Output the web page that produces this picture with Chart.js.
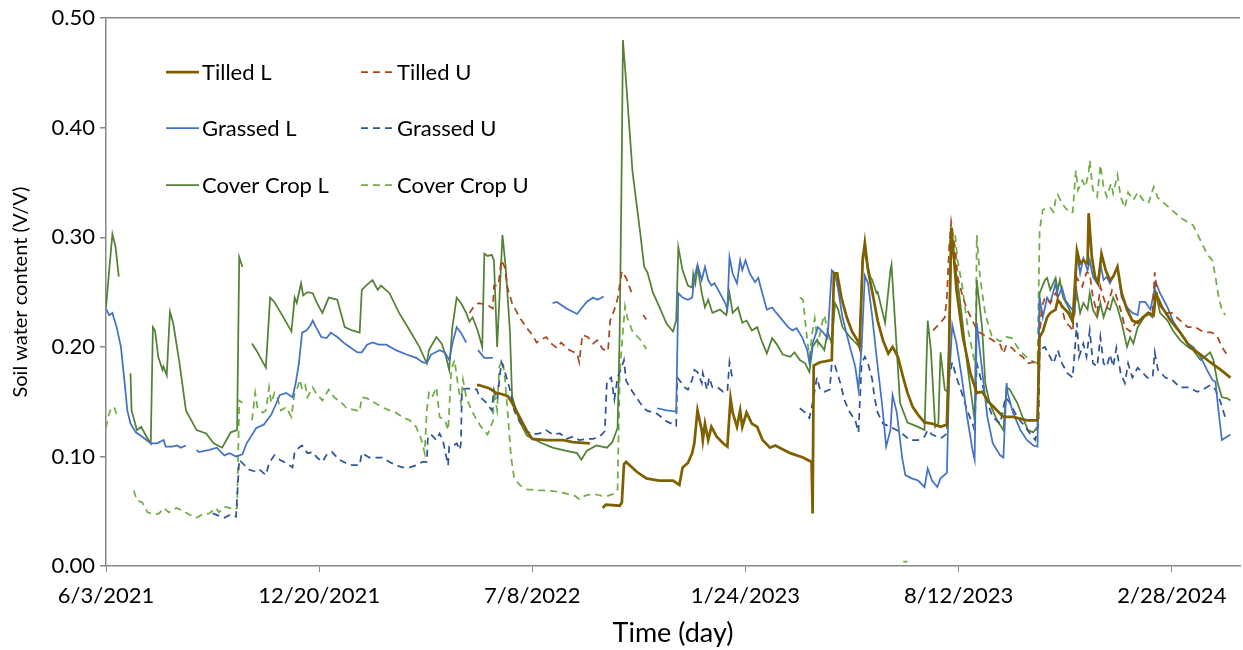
<!DOCTYPE html>
<html>
<head>
<meta charset="utf-8">
<script src="https://cdn.jsdelivr.net/npm/chart.js@4.4.1/dist/chart.umd.min.js"></script>
<style>
  body { margin: 0; background: #fff; }
  canvas { display: block; }
</style>
</head>
<body>
<canvas id="chart" width="1243" height="650"></canvas>
<script>
// day 0 = 6/3/2021, points are [day, soil water content]; null = gap in record
const xTickDays = [0, 200, 400, 600, 800, 1000];
const yTicks = [0, 0.1, 0.2, 0.3, 0.4, 0.5];

const tilledL = [
  [348,0.165],[350,0.165],[360,0.162],[366,0.158],[371,0.157],[377,0.155],[381,0.149],[388,0.136],[395,0.123],[400,0.116],[413,0.115],[428,0.115],[438,0.113],[454,0.112],[460,null],
  [466,0.053],[469,0.056],[482,0.055],[484,0.058],[486,0.093],[488,0.095],[498,0.086],[507,0.080],[519,0.078],[532,0.078],[538,0.074],[541,0.090],[546,0.094],[550,0.103],[552,0.112],[555,0.142],[559,0.124],[560,0.115],[562,0.130],[565,0.115],[568,0.127],[573,0.118],[579,0.112],[583,0.109],[586,0.153],[588,0.140],[592,0.127],[595,0.142],[597,0.127],[601,0.140],[606,0.130],[611,0.127],[616,0.115],[623,0.108],[628,0.110],[642,0.103],[654,0.099],[662,0.095],[663,0.048],[664,0.183],[670,0.186],[681,0.188],[683,0.267],[686,0.267],[690,0.245],[695,0.227],[700,0.214],[705,0.206],[707,0.200],[710,0.279],[712,0.295],[715,0.270],[720,0.245],[724,0.224],[729,0.206],[734,0.194],[738,0.200],[743,0.191],[748,0.172],[752,0.158],[757,0.145],[762,0.138],[768,0.131],[775,0.130],[783,0.127],[789,0.129],[791,0.197],[793,0.309],[795,0.288],[798,0.252],[804,0.209],[811,0.176],[817,0.158],[822,0.159],[829,0.149],[837,0.141],[842,0.136],[851,0.136],[864,0.133],[874,0.133],[876,0.209],[879,0.214],[883,0.227],[886,0.231],[891,0.234],[893,0.243],[898,0.236],[903,0.231],[907,0.223],[911,0.288],[914,0.276],[917,0.279],[921,0.276],[922,0.322],[925,0.282],[928,0.264],[931,0.258],[934,0.285],[938,0.270],[942,0.261],[945,0.264],[949,0.273],[953,0.249],[958,0.234],[963,0.224],[968,0.222],[973,0.227],[978,0.231],[983,0.229],[985,0.249],[991,0.236],[999,0.224],[1008,0.213],[1017,0.200],[1027,0.193],[1036,0.186],[1046,0.179],[1055,0.172]
];

const tilledU = [
  [341,0.231],[346,0.238],[350,0.240],[358,0.238],[363,0.235],[364,0.256],[368,0.256],[371,0.279],[374,0.273],[377,0.253],[381,0.240],[388,0.227],[395,0.217],[400,0.211],[404,0.204],[409,0.207],[413,0.209],[418,0.203],[423,0.199],[427,0.204],[432,0.199],[437,0.196],[442,0.194],[444,0.186],[447,0.211],[452,0.209],[457,0.203],[461,0.206],[466,0.198],[471,0.196],[473,0.224],[477,0.234],[480,0.244],[484,0.269],[488,0.263],[493,0.250],[498,null],
  [504,0.229],[507,0.225],[510,null],
  [776,0.215],[783,0.222],[787,0.227],[789,0.245],[791,0.288],[793,0.314],[795,0.300],[797,0.288],[799,0.264],[804,0.245],[808,0.234],[818,0.214],[827,0.209],[832,0.206],[839,0.202],[842,0.194],[845,0.202],[850,0.199],[855,0.194],[860,0.191],[865,0.185],[870,0.186],[874,0.183],[878,0.236],[881,0.245],[886,0.240],[891,0.249],[895,0.243],[900,0.223],[905,0.218],[907,0.214],[911,0.263],[916,0.255],[920,0.268],[923,0.267],[926,0.245],[930,0.231],[933,0.255],[936,0.245],[939,0.236],[944,0.252],[947,0.249],[952,0.234],[956,0.218],[961,0.214],[966,0.222],[970,0.226],[977,0.229],[982,0.231],[984,0.268],[987,0.240],[994,0.231],[1000,0.231],[1008,0.224],[1015,0.218],[1022,0.218],[1029,0.214],[1038,0.213],[1043,0.209],[1047,0.200],[1053,0.191]
];

const grassedL = [
  [0,0.235],[3,0.229],[6,0.231],[10,0.218],[14,0.200],[17,0.172],[20,0.142],[23,0.130],[28,0.122],[34,0.118],[42,0.112],[48,0.112],[54,0.115],[56,0.109],[62,0.109],[67,0.110],[70,0.108],[75,0.110],[80,null],
  [85,0.106],[87,0.104],[97,0.106],[104,0.108],[108,0.104],[111,0.101],[116,0.103],[122,0.100],[128,0.102],[132,0.112],[141,0.126],[148,0.129],[155,0.138],[160,0.149],[163,0.156],[169,0.158],[175,0.154],[178,0.167],[181,0.185],[184,0.213],[188,0.215],[192,0.220],[194,0.224],[197,0.218],[202,0.209],[207,0.208],[211,0.213],[217,0.209],[224,0.203],[230,0.199],[236,0.195],[240,0.195],[245,0.202],[250,0.204],[256,0.202],[263,0.202],[272,0.197],[282,0.193],[291,0.190],[297,0.186],[301,0.185],[305,0.193],[313,0.197],[318,0.195],[322,0.188],[325,0.203],[329,0.218],[333,0.213],[338,0.204],[344,null],
  [349,0.197],[355,0.190],[363,0.190],[390,null],
  [419,0.240],[423,0.241],[432,0.235],[442,0.230],[446,0.235],[451,0.241],[457,0.245],[461,0.243],[467,0.246],[490,null],
  [517,0.144],[526,0.142],[535,0.141],[537,0.249],[541,0.245],[546,0.243],[550,0.245],[552,0.263],[555,0.275],[559,0.261],[562,0.273],[565,0.261],[568,0.256],[571,0.258],[576,0.249],[581,0.240],[583,0.234],[585,0.282],[588,0.267],[592,0.258],[595,0.279],[597,0.270],[600,0.279],[604,0.267],[609,0.259],[612,0.263],[615,0.252],[620,0.234],[625,0.236],[629,0.231],[635,0.224],[640,0.218],[644,0.215],[648,0.217],[653,0.209],[658,0.197],[660,0.185],[663,0.203],[668,0.218],[673,0.213],[677,0.208],[681,0.270],[684,0.267],[687,0.252],[691,0.227],[698,0.200],[703,0.182],[706,0.161],[709,0.200],[712,0.265],[715,0.258],[719,0.227],[723,0.191],[728,0.149],[732,0.109],[736,0.124],[738,0.156],[742,0.140],[747,0.099],[750,0.083],[756,0.080],[762,0.078],[768,0.072],[771,0.089],[775,0.078],[780,0.072],[783,0.080],[789,0.085],[791,0.167],[794,0.220],[798,0.203],[803,0.172],[808,0.136],[813,0.106],[815,0.097],[817,0.222],[822,0.179],[827,0.136],[832,0.112],[839,0.101],[842,0.099],[845,0.167],[846,0.158],[851,0.140],[858,0.124],[864,0.115],[870,0.110],[874,0.109],[876,0.245],[879,0.227],[883,0.245],[886,0.240],[891,0.258],[893,0.245],[897,0.254],[900,0.243],[905,0.236],[909,0.231],[911,0.287],[914,0.267],[917,0.281],[921,0.270],[923,0.279],[926,0.264],[930,0.258],[933,0.276],[936,0.261],[939,0.264],[942,0.258],[945,0.264],[949,0.272],[953,0.245],[958,0.236],[963,0.231],[968,0.229],[970,0.241],[975,0.241],[980,0.234],[985,0.259],[989,0.249],[996,0.236],[1001,0.224],[1008,0.213],[1015,0.203],[1020,0.200],[1027,0.191],[1033,0.179],[1038,0.170],[1041,0.168],[1044,0.140],[1047,0.115],[1055,0.120]
];

const grassedU = [
  [100,0.048],[108,0.045],[111,0.044],[117,0.047],[122,0.045],[125,0.097],[128,0.094],[134,0.088],[141,0.086],[144,0.088],[150,0.083],[153,0.094],[158,0.101],[163,0.097],[169,0.094],[175,0.090],[177,0.104],[181,0.108],[184,0.110],[189,0.103],[194,0.104],[198,0.099],[203,0.095],[208,0.103],[212,0.104],[219,0.097],[225,0.094],[231,0.092],[238,0.092],[240,0.103],[247,0.099],[254,0.099],[259,0.099],[266,0.095],[272,0.092],[278,0.090],[285,0.090],[291,0.092],[297,0.095],[301,0.095],[302,0.118],[305,0.120],[310,0.115],[313,0.121],[316,0.115],[321,0.092],[322,0.109],[325,0.109],[329,0.112],[332,0.106],[333,0.112],[334,0.161],[338,0.162],[343,0.162],[348,0.161],[350,0.155],[357,0.149],[362,0.142],[364,0.161],[367,0.152],[371,0.186],[374,0.178],[379,0.161],[383,0.142],[388,0.132],[395,0.123],[400,0.120],[407,0.121],[413,0.124],[419,0.120],[426,0.121],[432,0.116],[438,0.118],[444,0.115],[451,0.116],[457,0.116],[463,0.118],[468,0.123],[470,0.169],[474,0.172],[477,0.152],[480,0.172],[484,0.182],[486,0.188],[488,0.169],[494,0.159],[501,0.149],[507,0.142],[517,0.139],[526,0.132],[535,0.128],[536,0.172],[540,0.167],[543,0.163],[546,0.161],[550,0.170],[552,0.179],[555,0.177],[559,0.167],[560,0.176],[564,0.161],[566,0.172],[569,0.163],[574,0.163],[579,0.159],[583,0.159],[585,0.186],[588,0.170],[620,null],
  [651,0.144],[656,0.140],[660,0.135],[663,0.149],[667,0.172],[670,0.161],[674,0.159],[679,0.161],[681,0.185],[684,0.183],[689,0.167],[693,0.151],[698,0.140],[703,0.133],[706,0.122],[709,0.185],[712,0.191],[715,0.185],[719,0.170],[721,0.154],[724,0.140],[729,0.130],[736,0.127],[742,0.124],[748,0.120],[754,0.115],[762,0.115],[768,0.118],[771,0.124],[775,0.120],[780,0.118],[784,0.117],[789,0.121],[791,0.172],[794,0.186],[798,0.172],[803,0.158],[808,0.142],[813,0.130],[815,0.124],[817,0.185],[821,0.170],[827,0.149],[832,0.136],[839,0.130],[844,0.154],[848,0.149],[855,0.136],[860,0.130],[867,0.121],[872,0.115],[875,0.130],[876,0.197],[881,0.200],[884,0.194],[889,0.185],[893,0.197],[897,0.185],[902,0.176],[907,0.172],[909,0.197],[911,0.222],[913,0.191],[917,0.203],[920,0.191],[923,0.215],[926,0.185],[930,0.182],[933,0.209],[936,0.185],[939,0.182],[942,0.193],[945,0.182],[948,0.199],[952,0.176],[956,0.167],[959,0.185],[963,0.172],[968,0.181],[973,0.176],[977,0.172],[982,0.172],[984,0.195],[987,0.179],[994,0.172],[1000,0.170],[1008,0.163],[1015,0.163],[1024,0.159],[1029,0.161],[1036,0.165],[1041,0.161],[1046,0.149],[1050,0.136],[1052,0.136]
];

const coverL = [
  [0,0.236],[3,0.270],[6,0.303],[9,0.291],[12,0.264],[18,null],
  [23,0.176],[24,0.142],[29,0.124],[33,0.127],[38,0.118],[42,0.112],[44,0.218],[46,0.215],[49,0.191],[53,0.179],[54,0.182],[57,0.174],[60,0.232],[63,0.222],[69,0.185],[75,0.142],[85,0.124],[94,0.121],[101,0.112],[109,0.108],[113,0.115],[117,0.122],[123,0.124],[125,0.282],[128,0.273],[132,null],
  [137,0.203],[141,0.197],[150,0.181],[154,0.245],[158,0.241],[164,0.231],[174,0.214],[177,0.245],[179,0.240],[183,0.258],[185,0.247],[189,0.250],[194,0.249],[198,0.240],[203,0.231],[209,0.245],[217,0.243],[224,0.218],[231,0.215],[238,0.213],[240,0.252],[244,0.256],[250,0.261],[255,0.252],[258,0.256],[266,0.249],[275,0.231],[285,0.215],[294,0.200],[301,0.185],[303,0.197],[310,0.209],[315,0.203],[319,0.191],[322,0.179],[325,0.218],[329,0.245],[333,0.240],[338,0.231],[341,0.223],[344,0.227],[349,0.214],[353,0.200],[355,0.285],[358,0.283],[362,0.284],[364,0.279],[367,0.200],[372,0.302],[375,0.273],[379,0.214],[381,0.155],[388,0.132],[395,0.119],[407,0.113],[419,0.108],[432,0.105],[442,0.103],[446,0.097],[451,0.105],[460,0.110],[470,0.108],[475,0.113],[480,0.126],[482,0.214],[484,0.377],[485,0.480],[488,0.442],[494,0.360],[501,0.306],[505,0.273],[508,0.268],[513,0.250],[519,0.237],[526,0.221],[532,0.214],[535,0.224],[537,0.291],[541,0.270],[546,0.256],[550,0.254],[551,0.267],[553,0.258],[555,0.273],[559,0.249],[562,0.236],[565,0.243],[569,0.231],[576,0.234],[582,0.229],[585,0.249],[588,0.231],[593,0.236],[597,0.222],[601,0.224],[606,0.215],[611,0.218],[615,0.206],[620,0.194],[625,0.208],[629,0.203],[635,0.193],[642,0.191],[646,0.195],[651,0.188],[656,0.185],[660,0.177],[663,0.200],[667,0.206],[672,0.200],[674,0.197],[677,0.214],[681,0.203],[684,0.240],[687,0.234],[691,0.218],[698,0.209],[703,0.204],[707,0.200],[710,0.285],[712,0.285],[717,0.264],[719,0.261],[723,0.249],[724,0.250],[731,0.222],[736,0.270],[737,0.275],[742,0.197],[745,0.149],[752,0.131],[762,0.127],[768,0.124],[771,0.224],[774,0.197],[778,0.127],[781,0.130],[783,0.195],[787,0.161],[790,0.159],[793,0.291],[795,0.285],[801,0.245],[808,0.185],[815,0.133],[817,0.261],[822,0.218],[825,0.167],[829,0.149],[836,0.133],[842,0.124],[845,0.163],[848,0.161],[855,0.149],[860,0.136],[865,0.124],[870,0.122],[874,0.127],[876,0.249],[881,0.261],[883,0.263],[886,0.252],[891,0.263],[893,0.252],[895,0.261],[898,0.245],[903,0.236],[907,0.227],[911,0.249],[914,0.231],[917,0.240],[921,0.234],[923,0.249],[926,0.234],[930,0.227],[933,0.240],[936,0.227],[939,0.236],[942,0.234],[945,0.245],[949,0.236],[953,0.222],[958,0.200],[961,0.209],[964,0.203],[968,0.218],[972,0.224],[977,0.231],[982,0.227],[985,0.249],[989,0.231],[996,0.224],[1001,0.215],[1008,0.206],[1015,0.200],[1020,0.197],[1027,0.188],[1031,0.191],[1036,0.195],[1039,0.188],[1043,0.167],[1047,0.154],[1052,0.153],[1055,0.151]
];

const coverU = [
  [0,0.126],[2,0.136],[5,0.145],[8,0.144],[10,0.138],[18,null],
  [26,0.069],[29,0.060],[34,0.058],[39,0.049],[45,0.047],[50,0.048],[54,0.053],[59,0.049],[66,0.053],[71,0.051],[78,0.047],[85,0.044],[90,0.047],[97,0.048],[103,0.053],[106,0.049],[111,0.054],[116,0.053],[120,0.051],[123,0.053],[125,0.151],[128,0.149],[132,null],
  [137,0.133],[140,0.158],[142,0.145],[147,0.140],[150,0.142],[153,0.163],[155,0.149],[158,0.158],[161,0.153],[164,0.142],[169,0.145],[174,0.136],[177,0.158],[179,0.161],[182,0.170],[184,0.161],[187,0.165],[189,0.154],[194,0.163],[197,0.158],[203,0.151],[209,0.161],[214,0.154],[221,0.149],[226,0.144],[235,0.142],[238,0.141],[240,0.154],[245,0.153],[252,0.149],[259,0.145],[266,0.142],[272,0.140],[278,0.136],[285,0.133],[291,0.127],[296,0.115],[299,0.103],[301,0.142],[303,0.158],[306,0.154],[310,0.163],[313,0.136],[318,0.133],[321,0.124],[324,0.179],[327,0.188],[330,0.167],[333,0.149],[335,0.170],[338,0.154],[343,0.142],[348,0.133],[352,0.127],[358,0.120],[363,0.132],[364,0.159],[367,0.142],[369,0.182],[372,0.188],[374,0.175],[377,0.139],[380,0.100],[383,0.080],[388,0.074],[395,0.070],[405,0.069],[413,0.069],[423,0.068],[432,0.066],[440,0.064],[444,0.061],[449,0.064],[457,0.066],[465,0.064],[471,0.064],[477,0.066],[480,0.070],[482,0.175],[485,0.214],[487,0.237],[489,0.227],[494,0.214],[501,0.207],[507,0.198],[600,null],
  [651,0.245],[654,0.243],[656,0.224],[658,0.206],[660,0.191],[663,0.215],[665,0.226],[668,0.203],[672,0.222],[674,0.229],[677,0.215],[700,null],
  [748,0.004],[752,0.004],[760,null],
  [791,0.291],[794,0.307],[797,0.300],[799,0.279],[803,0.258],[806,0.236],[809,0.215],[814,0.191],[816,0.182],[817,0.302],[820,0.264],[825,0.230],[831,0.210],[839,0.205],[845,0.209],[850,0.208],[855,0.200],[860,0.194],[867,0.188],[874,0.185],[876,0.307],[879,0.325],[883,0.327],[886,0.327],[889,0.323],[891,0.334],[893,0.339],[897,0.331],[900,0.327],[905,0.322],[907,0.323],[910,0.361],[912,0.343],[916,0.352],[919,0.346],[922,0.359],[923,0.370],[926,0.343],[930,0.337],[933,0.366],[936,0.346],[939,0.337],[943,0.349],[945,0.340],[949,0.357],[952,0.337],[956,0.327],[959,0.341],[964,0.334],[968,0.341],[973,0.334],[978,0.331],[983,0.346],[987,0.336],[993,0.331],[1000,0.325],[1008,0.318],[1015,0.314],[1020,0.311],[1027,0.297],[1033,0.285],[1038,0.279],[1041,0.264],[1044,0.245],[1047,0.234],[1050,0.229]
];

const startUTC = Date.UTC(2021, 5, 3);
function dayLabel(d) {
  const dt = new Date(startUTC + d * 86400000);
  return (dt.getUTCMonth() + 1) + '/' + dt.getUTCDate() + '/' + dt.getUTCFullYear();
}
function pts(arr) {
  return arr.map(p => ({ x: p[0], y: p[1] }));
}
function series(label, arr, color, width, dashed) {
  return {
    label: label,
    data: pts(arr),
    borderColor: color,
    backgroundColor: color,
    borderWidth: width,
    borderDash: dashed ? [7, 5] : [],
    pointRadius: 0,
    tension: 0,
    fill: false,
    spanGaps: false
  };
}

const fontFam = 'Lato, "Liberation Sans", sans-serif';
const axisGrey = '#868686';

// legend drawn inside the plot, 2 columns x 3 rows like the original
const cornerLegend = {
  id: 'cornerLegend',
  afterDraw(chart) {
    const ctx = chart.ctx;
    const area = chart.chartArea;
    const colX = [area.left + 60, area.left + 255];
    const rowY = [area.top + 54, area.top + 110, area.top + 167];
    chart.data.datasets.forEach((ds, i) => {
      const x = colX[i % 2];
      const y = rowY[Math.floor(i / 2)];
      ctx.save();
      ctx.strokeStyle = ds.borderColor;
      ctx.lineWidth = ds.borderWidth;
      ctx.setLineDash(ds.borderDash);
      ctx.beginPath();
      ctx.moveTo(x, y);
      ctx.lineTo(x + 33, y);
      ctx.stroke();
      ctx.setLineDash([]);
      ctx.fillStyle = '#000';
      ctx.font = '22px ' + fontFam;
      ctx.textBaseline = 'middle';
      ctx.fillText(ds.label, x + 36, y + 1);
      ctx.restore();
    });
  }
};

new Chart(document.getElementById('chart'), {
  type: 'line',
  data: {
    datasets: [
      series('Tilled L', tilledL, '#7F6000', 2.75, false),
      series('Tilled U', tilledU, '#A9481E', 1.75, true),
      series('Grassed L', grassedL, '#4472C4', 1.75, false),
      series('Grassed U', grassedU, '#2F5597', 1.75, true),
      series('Cover Crop L', coverL, '#548235', 1.75, false),
      series('Cover Crop U', coverU, '#70AD47', 1.75, true)
    ]
  },
  options: {
    responsive: false,
    animation: false,
    devicePixelRatio: 1,
    layout: { padding: { top: 18, right: 3, left: 0, bottom: 0 } },
    plugins: {
      legend: { display: false },
      tooltip: { enabled: false }
    },
    scales: {
      x: {
        type: 'linear',
        min: 0,
        max: 1064,
        afterBuildTicks: s => { s.ticks = xTickDays.map(v => ({ value: v })); },
        afterFit: s => { s.height = 84; },
        ticks: {
          callback: v => dayLabel(v),
          font: { family: fontFam, size: 22 },
          color: '#000',
          padding: 11,
          maxRotation: 0,
          autoSkip: false
        },
        grid: { drawOnChartArea: false, drawTicks: true, tickLength: 6, color: axisGrey },
        border: { color: axisGrey, width: 1.5 },
        title: {
          display: true,
          text: 'Time (day)',
          font: { family: fontFam, size: 27 },
          color: '#000',
          padding: { top: 0, bottom: 1 }
        }
      },
      y: {
        min: 0,
        max: 0.5,
        afterBuildTicks: s => { s.ticks = yTicks.map(v => ({ value: v })); },
        afterFit: s => { s.width = 106; },
        ticks: {
          callback: v => v.toFixed(2),
          font: { family: fontFam, size: 22 },
          color: '#000',
          padding: 5
        },
        grid: {
          drawOnChartArea: true,
          drawTicks: true,
          tickLength: 6,
          color: c => (c.tick && c.tick.value === 0.5) ? axisGrey : 'rgba(0,0,0,0)',
          lineWidth: 1.5,
          tickColor: axisGrey
        },
        border: { color: axisGrey, width: 1.5 },
        title: {
          display: true,
          text: 'Soil water content (V/V)',
          font: { family: fontFam, size: 20 },
          color: '#000',
          padding: { top: 9, bottom: 0 }
        }
      }
    }
  },
  plugins: [cornerLegend]
});
</script>
</body>
</html>
